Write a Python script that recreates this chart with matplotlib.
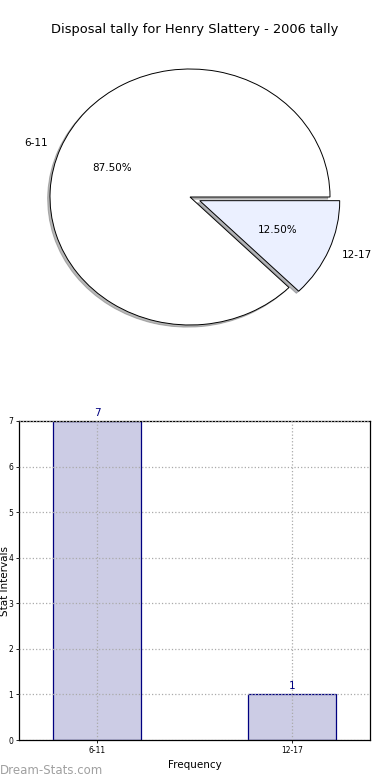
import matplotlib.pyplot as plt
import numpy as np

# chart data
title = 'Disposal tally for Henry Slattery - 2006 tally'
groups = ['6-11', '12-17']
counts = [7, 1]
pie_colors = ['#FFFFFF', '#EBF0FF']
explode = [0, 0.075]

W, H = 390, 780
fig = plt.figure(figsize=(W / 100, H / 100), dpi=100)

def px_axes(left, top, width, height):
    # place an axes by pixel box (top measured from figure top)
    return fig.add_axes([left / W, 1 - (top + height) / H, width / W, height / H])

# pie: centre (190, 197), radius ~140 px across, ~128 px down
rx, ry, k = 140, 128, 1.3
ax1 = px_axes(190 - rx * k, 197 - ry * k, 2 * rx * k, 2 * ry * k)
ax1.pie(counts, labels=groups, colors=pie_colors, explode=explode,
        autopct='%1.2f%%', shadow={'ox': -0.012, 'oy': -0.012, 'shade': 0.55},
        startangle=0,
        wedgeprops={'edgecolor': 'black', 'linewidth': 0.7},
        textprops={'fontsize': 7.5})
ax1.set_aspect('auto')
ax1.set_xlim(-k, k)
ax1.set_ylim(-k, k)
ax1.axis('off')
fig.text(195 / W, 1 - 30 / H, title, ha='center', va='center', fontsize=9.4)

# bar chart
ax2 = px_axes(19, 421, 351, 319)
x = np.arange(len(groups))
ax2.bar(x, counts, width=0.45, color='#CCCCE5', edgecolor='#000080', linewidth=0.9, zorder=2)
for xi, c in zip(x, counts):
    ax2.text(xi, c + 0.07, str(c), ha='center', va='bottom', color='#000080', fontsize=7.5)
ax2.set_xlim(-0.4, 1.4)
ax2.set_ylim(0, 7)
ax2.set_xticks(x)
ax2.set_xticklabels(groups)
ax2.set_yticks(range(0, 8))
ax2.tick_params(labelsize=5.5, direction='out', length=2, width=0.6, pad=2)
ax2.grid(True, ls=':', color='#AAAAAA', lw=0.9, zorder=3)
ax2.set_axisbelow(False)
for s in ax2.spines.values():
    s.set_linewidth(0.9)
ax2.set_xlabel('Frequency', fontsize=7.5, labelpad=4)
ax2.set_ylabel('Stat Intervals', fontsize=7.5)
ax2.yaxis.set_label_coords(-0.027, 0.5)

fig.text(0, 1 - 770 / H, 'Dream-Stats.com', ha='left', va='center',
         fontsize=8.5, color='#A0A0A0')

plt.savefig('out.png', dpi=100)
